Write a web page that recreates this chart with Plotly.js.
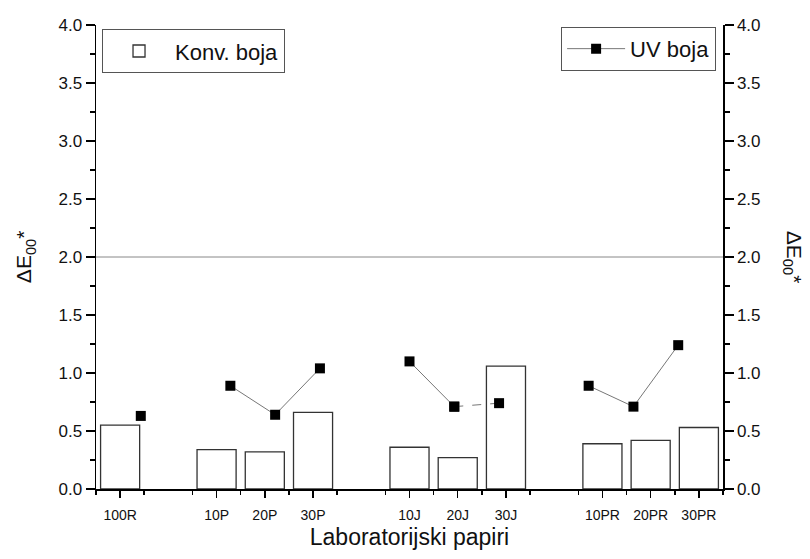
<!DOCTYPE html>
<html>
<head>
<meta charset="utf-8">
<script src="https://cdn.plot.ly/plotly-3.0.1.min.js"></script>
<style>html,body{margin:0;padding:0;background:#fff;}#chart{width:810px;height:559px;}</style>
</head>
<body>
<div id="chart"></div>
<script>
// x-axis slots (blank slots separate the groups)
var slots = ["100R", "", "10P", "20P", "30P", "", "10J", "20J", "30J", "", "10PR", "20PR", "30PR"];
// samples
var samples = ["100R", "10P", "20P", "30P", "10J", "20J", "30J", "10PR", "20PR", "30PR"];
// Konv. boja (bars)
var konvBoja = [0.55, 0.34, 0.32, 0.66, 0.36, 0.27, 1.06, 0.39, 0.42, 0.53];
// UV boja (squares + line)
var uvBoja = [0.63, 0.89, 0.64, 1.04, 1.10, 0.71, 0.74, 0.89, 0.71, 1.24];
// tolerance line
var threshold = 2.0;
var yTicks = [0.0, 0.5, 1.0, 1.5, 2.0, 2.5, 3.0, 3.5, 4.0];

var FONT = "Liberation Sans, Arial, sans-serif";

function slotPos(name) { return slots.indexOf(name) + 1; }
var labelledPos = [], labelledText = [], blankPos = [];
slots.forEach(function (s, i) {
  if (s) { labelledPos.push(i + 1); labelledText.push(s); } else { blankPos.push(i + 1); }
});

var barX = samples.map(slotPos);

// UV line along all slots with gaps at blanks; 30J drawn by the dashed segment trace
var uvLineX = [], uvLineY = [];
slots.forEach(function (s, i) {
  uvLineX.push(i + 1);
  var k = samples.indexOf(s);
  uvLineY.push(k >= 0 && s !== "30J" ? uvBoja[k] : null);
});
var dashX = ["20J", "30J"].map(slotPos);
var dashY = ["20J", "30J"].map(function (s) { return uvBoja[samples.indexOf(s)]; });

var traces = [
  {
    type: "bar", name: "Konv. boja", x: barX, y: konvBoja, width: 0.81,
    marker: { color: "#ffffff", line: { color: "#333333", width: 1.3 } },
    xaxis: "x", yaxis: "y", legend: "legend"
  },
  {
    type: "scatter", mode: "lines+markers", name: "UV boja", x: uvLineX, y: uvLineY,
    connectgaps: false,
    line: { color: "#777777", width: 1 },
    marker: { symbol: "square", size: 10, color: "#000000" },
    xaxis: "x2", yaxis: "y2", legend: "legend2"
  },
  {
    type: "scatter", mode: "lines+markers", name: "UV boja", x: dashX, y: dashY,
    showlegend: false,
    line: { color: "#777777", width: 1, dash: "dash" },
    marker: { symbol: "square", size: 10, color: "#000000" },
    xaxis: "x2", yaxis: "y2"
  }
];

var yCommon = {
  range: [0, 4], tickvals: yTicks, ticktext: yTicks.map(function (v) { return v.toFixed(1); }),
  tickmode: "array",
  showgrid: false, zeroline: false, showline: true, linecolor: "#000", linewidth: 1.5,
  ticks: "outside", ticklen: 9, tickwidth: 1.5, tickcolor: "#000",
  minor: { tickmode: "linear", tick0: 0.25, dtick: 0.5, ticks: "outside", ticklen: 5, tickwidth: 1.5, tickcolor: "#000", showgrid: false },
  tickfont: { family: FONT, size: 17, color: "#111" }
};

var layout = {
  width: 810, height: 559,
  margin: { l: 96, r: 87, t: 25, b: 70 },
  paper_bgcolor: "#fff", plot_bgcolor: "#fff",
  font: { family: FONT, color: "#111" },
  showlegend: true,
  xaxis: {
    range: [0.5, 13.5], tickmode: "array", tickvals: labelledPos, ticktext: labelledText,
    showgrid: false, zeroline: false, showline: true, linecolor: "#000", linewidth: 1.5,
    ticks: "outside", ticklen: 7, tickwidth: 1.5, tickcolor: "#000",
    minor: { tickmode: "linear", tick0: 0.5, dtick: 1, ticks: "outside", ticklen: 4, tickwidth: 1.5, tickcolor: "#000", showgrid: false },
    tickfont: { family: FONT, size: 14, color: "#111" },
    ticklabelstandoff: 6,
    title: { text: "Laboratorijski papiri", font: { family: FONT, size: 23, color: "#111" }, standoff: 6 }
  },
  xaxis3: {
    overlaying: "x", anchor: "y", side: "bottom", range: [0.5, 13.5],
    tickmode: "array", tickvals: blankPos, showticklabels: false,
    showgrid: false, zeroline: false, showline: false,
    ticks: "outside", ticklen: 7, tickwidth: 1.5, tickcolor: "#000"
  },
  xaxis2: { overlaying: "x", range: [0, 14], visible: false, showgrid: false, zeroline: false },
  yaxis: Object.assign({}, yCommon, { side: "left" }),
  yaxis2: Object.assign({}, yCommon, { side: "right", overlaying: "y" }),
  legend: {
    x: 0.0096, y: 0.991, xanchor: "left", yanchor: "top",
    bordercolor: "#555", borderwidth: 1, bgcolor: "#fff",
    font: { family: FONT, size: 22, color: "#111" }, itemwidth: 62
  },
  legend2: {
    x: 0.989, y: 0.996, xanchor: "right", yanchor: "top",
    bordercolor: "#555", borderwidth: 1, bgcolor: "#fff",
    font: { family: FONT, size: 22, color: "#111" }, itemwidth: 58
  },
  shapes: [
    { type: "line", xref: "paper", x0: 0, x1: 1, yref: "y", y0: threshold, y1: threshold,
      line: { color: "#888", width: 1 } }
  ],
  annotations: [
    { text: "ΔE<sub>00</sub>*", xref: "paper", yref: "paper", x: -0.113, y: 0.5,
      xanchor: "center", yanchor: "middle", textangle: -90, showarrow: false,
      font: { family: FONT, size: 21, color: "#111" } },
    { text: "ΔE<sub>00</sub>*", xref: "paper", yref: "paper", x: 1.112, y: 0.5,
      xanchor: "center", yanchor: "middle", textangle: 90, showarrow: false,
      font: { family: FONT, size: 21, color: "#111" } }
  ]
};

Plotly.newPlot("chart", traces, layout, { displayModeBar: false, staticPlot: true });
</script>
</body>
</html>
